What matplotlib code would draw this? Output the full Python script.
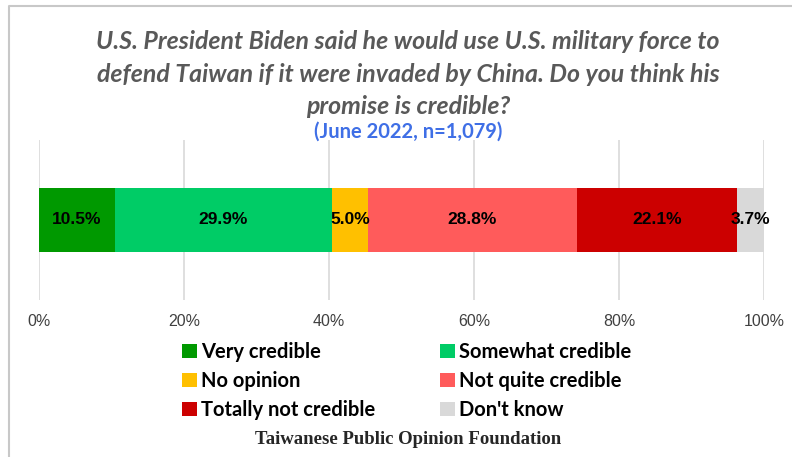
import matplotlib

matplotlib.use("Agg")
import matplotlib.pyplot as plt
from matplotlib.lines import Line2D
from matplotlib.patches import Patch

categories = [
    "Very credible",
    "Somewhat credible",
    "No opinion",
    "Not quite credible",
    "Totally not credible",
    "Don't know",
]
values = [10.5, 29.9, 5.0, 28.8, 22.1, 3.7]
colors = ["#009900", "#00CC66", "#FFC000", "#FF5B5B", "#CC0000", "#D9D9D9"]
ticks = [0, 20, 40, 60, 80, 100]

title = ("U.S. President Biden said he would use U.S. military force to\n"
         "defend Taiwan if it were invaded by China. Do you think his\n"
         "promise is credible?")
subtitle = "(June 2022, n=1,079)"
source = "Taiwanese Public Opinion Foundation"

W, H = 792, 457
fig = plt.figure(figsize=(W / 100, H / 100), dpi=100)


def fx(px):
    return px / W


def fy(py):
    return 1 - py / H


# outer frame (top and left edges visible)
fig.add_artist(Line2D([fx(8.5), fx(8.5), 1], [0, fy(5.5), fy(5.5)],
                      color="#C8C8C8", lw=1.5, transform=fig.transFigure))

ax = fig.add_axes([fx(39), fy(300), fx(764) - fx(39), fy(140) - fy(300)])
left = 0
for cat, val, col in zip(categories, values, colors):
    ax.barh(0, val, left=left, height=0.4, color=col, zorder=3)
    ax.text(left + val / 2, 0, f"{val:.1f}%", ha="center", va="center",
            fontsize=12.5, fontweight="bold", family="Liberation Sans",
            color="black", zorder=4)
    left += val

ax.set_xlim(0, 100)
ax.set_ylim(-0.5, 0.5)
ax.set_xticks(ticks)
ax.set_xticklabels([f"{t}%" for t in ticks], fontsize=11.5,
                   family="Liberation Sans", color="#404040")
ax.set_yticks([])
ax.tick_params(axis="x", length=0, pad=10)
ax.grid(axis="x", color="#D9D9D9", lw=1.2, zorder=0)
for s in ax.spines.values():
    s.set_visible(False)

fig.text(fx(408), fy(74), title, ha="center", va="center", fontsize=17.9,
         fontweight="bold", style="italic", family="Lato", color="#595959",
         linespacing=1.5)
fig.text(fx(408), fy(132), subtitle, ha="center", va="center", fontsize=14.5,
         fontweight="bold", family="Lato", color="#3F6FE6")

handles = [Patch(facecolor=c, edgecolor="none") for c in colors]
for col_idx, x0 in enumerate([182, 440]):
    idx = [col_idx, col_idx + 2, col_idx + 4]
    fig.legend([handles[i] for i in idx], [categories[i] for i in idx],
               loc="upper left", bbox_to_anchor=(fx(x0), fy(342)),
               frameon=False, ncol=1, handlelength=0.75, handleheight=0.75,
               handletextpad=0.2, labelspacing=0.45, borderpad=0,
               borderaxespad=0,
               prop={"family": "Lato", "weight": "bold", "size": 14.5})

fig.text(fx(408), fy(440), source, ha="center", va="center", fontsize=13.5,
         fontweight="bold", family="Liberation Serif", color="#262626")

fig.savefig("out.png", dpi=100)
